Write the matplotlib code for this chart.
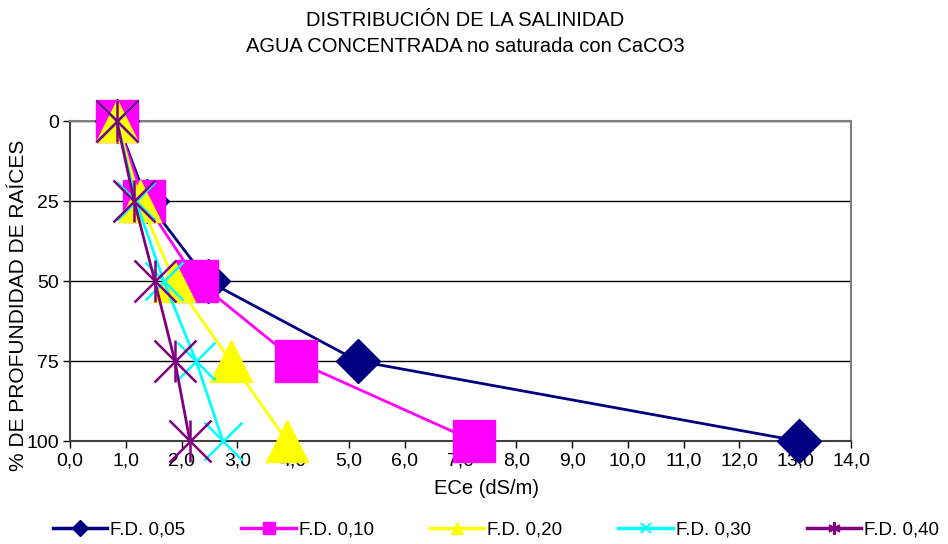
import matplotlib
matplotlib.use("Agg")
import matplotlib.pyplot as plt
from matplotlib.ticker import FuncFormatter

plt.rcParams['font.family'] = ['Liberation Sans', 'DejaVu Sans']

depth = [0, 25, 50, 75, 100]
fd005 = [0.84, 1.38, 2.47, 5.16, 13.06]
fd010 = [0.84, 1.33, 2.28, 4.05, 7.24]
fd020 = [0.84, 1.25, 1.87, 2.88, 3.89]
fd030 = [0.84, 1.18, 1.68, 2.26, 2.74]
fd040 = [0.84, 1.15, 1.52, 1.88, 2.15]
labels = ["F.D. 0,05", "F.D. 0,10", "F.D. 0,20", "F.D. 0,30", "F.D. 0,40"]
x_ticks = list(range(0, 15))
y_ticks = [0, 25, 50, 75, 100]

series = [fd005, fd010, fd020, fd030, fd040]
colors = ["#000080", "#FF00FF", "#FFFF00", "#00FFFF", "#800080"]
markers = ["D", "s", "^", "x", "*"]
msizes = [22, 30, 30, 28, 30]

fig = plt.figure(figsize=(9.48, 5.44), dpi=100)
ax = fig.add_axes([70/948, 1-441/544, (851-70)/948, (441-121)/544])

handles = []
for vals, c, m, ms, lab in zip(series, colors, markers, msizes, labels):
    if m == "*":
        ax.plot(vals, depth, color=c, lw=2, zorder=3)
        ax.plot(vals, depth, ls='none', marker='x', ms=ms, mew=1.8, color=c, zorder=4)
        ax.plot(vals, depth, ls='none', marker='|', ms=ms, mew=1.8, color=c, zorder=4)
        h, = ax.plot([], [], color=c, lw=2.5, marker=(6, 2, 0), ms=9, mew=1.5)
    elif m == "x":
        ax.plot(vals, depth, color=c, lw=2, marker=m, ms=ms, mew=1.8, zorder=3)
        h, = ax.plot([], [], color=c, lw=2.5, marker='x', ms=7, mew=1.5)
    else:
        ax.plot(vals, depth, color=c, lw=2, marker=m, ms=ms, mec=c, mfc=c, zorder=3)
        h, = ax.plot([], [], color=c, lw=2.5, marker=m, ms=9 if m != "D" else 8)
    h.set_label(lab)
    handles.append(h)

ax.set_xlim(0, 14)
ax.set_ylim(100, 0)
ax.set_xticks(x_ticks)
ax.set_yticks(y_ticks)
ax.xaxis.set_major_formatter(FuncFormatter(lambda v, p: f"{v:.1f}".replace(".", ",")))
ax.yaxis.set_major_formatter(FuncFormatter(lambda v, p: f"{int(v)}"))
ax.tick_params(axis='both', labelsize=14, direction='out', length=5, width=1, colors='black')
ax.tick_params(axis='x', pad=3)
ax.tick_params(axis='y', pad=3)
ax.grid(axis='y', color='black', lw=1)
ax.set_axisbelow(True)
for s in ['top', 'right']:
    ax.spines[s].set_color('#808080')
    ax.spines[s].set_linewidth(1.5)
for s in ['left', 'bottom']:
    ax.spines[s].set_color('#404040')
    ax.spines[s].set_linewidth(1.5)
for ln in ax.lines:
    ln.set_clip_on(False)

fig.text(465/948, 1-21/544, "DISTRIBUCIÓN DE LA SALINIDAD", ha='center', va='center', fontsize=14.5)
fig.text(465/948, 1-46/544, "AGUA CONCENTRADA no saturada con CaCO3", ha='center', va='center', fontsize=14.5)
fig.text(487/948, 1-488/544, "ECe (dS/m)", ha='center', va='center', fontsize=14.5)
fig.text(19/948, 1-305/544, "% DE PROFUNDIDAD DE RAÍCES", ha='center', va='center', fontsize=15, rotation=90)

fig.legend(handles=handles, loc='center', bbox_to_anchor=(496/948, 1-530/544), ncol=5,
           frameon=False, fontsize=13.5, handlelength=2.9, columnspacing=3.0, handletextpad=0.15)

fig.savefig("out.png", dpi=100)
